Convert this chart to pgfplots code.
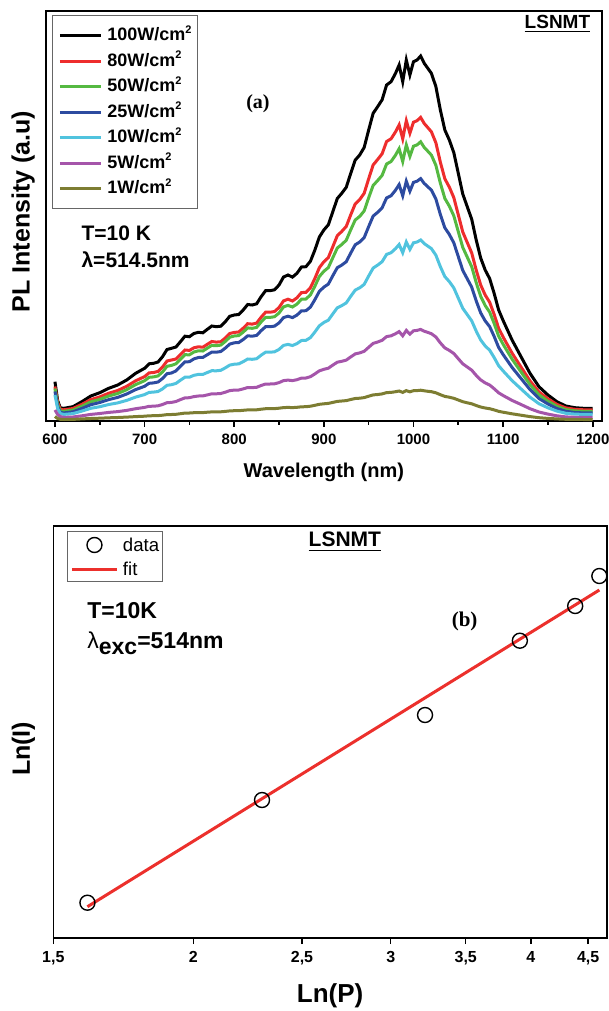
\documentclass[border=0pt]{standalone}
\usepackage{fontspec}
\setmainfont{Liberation Sans}
\newfontfamily\timesf{Liberation Serif}
\usepackage{pgfplots}
\usepackage{pgfplotstable}
\pgfplotsset{compat=1.18}

\definecolor{cBlack}{RGB}{0,0,0}
\definecolor{cRed}{RGB}{238,45,45}
\definecolor{cGreen}{RGB}{85,185,65}
\definecolor{cBlue}{RGB}{45,75,160}
\definecolor{cCyan}{RGB}{80,195,222}
\definecolor{cMag}{RGB}{165,85,170}
\definecolor{cOlive}{RGB}{125,125,50}
\definecolor{cFit}{RGB}{236,48,44}

\newcommand{\sq}{\raisebox{3.6pt}{\fontsize{5.5}{5.5}\selectfont 2}}

% PL spectra, arbitrary units
\pgfplotstableread{
wl   p100  p80   p50   p25   p10   p5    p1
600  38.8  34.0  32.0  29.0  25.5  10.5  4.0
603  20.0  18.0  16.0  14.0  12.0  6.0   2.0
606  12.5  11.0  9.5   8.0   7.0   4.0   1.2
610  12.2  10.7  9.2   7.6   6.1   3.1   1.0
620  13.8  12.0  10.4  8.7   6.9   3.5   1.1
630  18.8  16.1  14.2  12.0  9.4   4.7   1.6
640  24.5  20.9  18.6  15.8  12.2  6.1   2.0
650  27.8  23.6  21.1  18.0  13.8  7.0   2.3
660  32.2  27.3  24.5  20.9  16.0  8.1   2.7
670  35.5  30.0  27.0  23.1  17.6  8.9   3.0
680  40.5  34.2  30.8  26.5  20.1  10.1  3.4
690  47.2  39.7  35.9  30.9  23.4  11.8  3.9
700  52.2  43.9  39.8  34.2  25.9  13.1  4.3
705  56.7  47.6  43.2  37.2  28.1  14.2  4.7
710  57.2  48.0  43.6  37.6  28.4  14.3  4.8
715  58.5  49.1  44.6  38.5  29.0  14.7  4.9
720  63.8  53.5  48.6  42.0  31.6  16.0  5.3
725  71.0  59.5  54.2  46.8  35.2  17.8  5.9
730  72.2  60.5  55.1  47.5  35.8  18.1  6.0
735  73.5  61.5  56.7  49.6  37.1  19.0  6.2
740  78.8  65.9  61.3  54.3  40.3  20.9  6.8
745  84.3  70.5  65.8  58.6  43.3  22.6  7.4
750  83.8  70.1  65.7  58.8  43.3  22.8  7.5
755  87.0  72.7  68.5  61.6  45.2  23.9  7.8
760  88.2  73.7  69.7  63.0  46.1  24.5  7.9
765  87.7  73.3  69.5  63.1  46.1  24.6  7.9
770  91.2  76.2  72.4  65.8  48.0  25.6  8.3
775  94.5  79.0  75.1  68.4  49.8  26.7  8.6
780  93.8  78.4  74.8  68.3  49.7  26.7  8.6
785  94.3  78.8  75.4  69.0  50.2  27.0  8.7
790  98.8  82.5  79.0  72.4  52.6  28.3  9.1
795  104.2 87.0  83.3  76.4  55.4  29.9  9.6
800  105.5 88.1  84.5  77.7  56.3  30.4  9.8
805  106.0 88.5  84.9  78.0  56.6  30.5  9.8
810  110.5 92.3  88.4  81.0  58.8  31.6  10.2
815  116.0 96.8  92.6  84.7  61.5  33.0  10.6
820  115.5 96.4  92.2  84.3  61.2  32.9  10.6
825  116.7 97.4  93.1  85.1  61.8  33.2  10.7
830  123.8 103.3 98.5  89.8  65.3  35.0  11.3
835  129.8 108.3 103.1 93.8  68.3  36.5  11.8
840  129.8 108.3 103.1 93.8  68.3  36.5  11.8
845  130.7 109.0 103.8 94.4  68.7  36.7  11.9
850  135.5 113.0 107.5 97.6  71.1  37.9  12.3
855  143.5 119.6 113.6 102.9 75.1  39.9  12.9
860  145.5 121.3 115.1 104.3 76.1  40.4  13.1
865  143.4 119.5 113.5 102.9 75.0  39.9  12.9
870  147.2 122.7 116.4 105.4 76.9  40.8  13.2
875  153.5 127.9 121.3 109.6 80.0  42.4  13.7
880  153.8 128.2 121.5 109.8 80.2  42.5  13.8
885  159.2 132.7 125.6 113.4 82.9  43.8  14.3
890  170.5 142.1 134.3 120.9 88.5  46.6  15.2
895  183.5 152.9 144.0 129.1 94.7  49.7  16.2
900  190.5 158.7 149.2 133.4 98.0  51.2  16.7
905  195.7 162.9 152.9 136.4 100.3 52.3  17.1
910  208.8 173.8 162.8 144.8 106.6 55.4  18.1
915  222.0 184.8 172.5 152.8 112.7 58.3  19.1
920  227.2 189.1 176.0 155.4 114.9 59.2  19.5
925  233.2 194.1 180.3 158.8 117.6 60.4  19.9
930  247.2 205.7 190.7 167.5 124.2 63.6  21.0
935  260.4 216.6 200.5 175.7 130.4 66.6  22.0
940  265.5 220.9 204.1 178.5 132.7 67.6  22.3
945  273.0 227.2 209.6 182.9 136.1 69.2  22.9
950  290.5 241.7 222.7 193.9 144.5 73.2  24.3
955  307.2 255.5 235.1 204.4 152.4 77.1  25.6
960  313.8 261.0 239.9 208.2 155.4 78.5  26.0
965  320.7 266.7 245.1 212.7 158.8 80.2  26.6
970  335.5 279.0 256.5 222.6 166.1 83.9  27.9
975  338.8 281.7 259.0 224.8 167.8 84.7  28.1
980  347.2 288.7 265.4 230.4 171.9 86.8  28.8
984  355.5 295.6 271.8 235.9 176.0 88.9  29.5
988  338.8 281.7 259.0 224.8 167.8 84.7  28.1
992  360.5 299.8 275.6 239.3 178.5 90.1  29.9
996  345.5 287.3 264.1 229.3 171.1 86.4  28.7
1000 358.8 298.3 274.3 238.1 177.7 89.7  29.8
1004 360.5 299.8 275.6 239.3 178.5 90.1  29.9
1008 364.5 303.1 278.7 241.9 180.5 91.1  30.3
1012 357.2 297.0 273.1 237.1 176.9 89.3  29.7
1016 352.2 292.9 269.3 233.7 174.4 88.1  29.2
1020 347.2 288.7 265.4 230.4 171.9 86.8  28.8
1025 333.9 277.7 255.2 221.5 165.3 83.5  27.7
1030 310.5 258.3 237.4 206.0 153.8 77.6  25.8
1035 290.5 241.7 222.1 192.7 143.9 72.6  24.1
1040 280.5 233.4 214.4 186.1 138.9 70.1  23.3
1045 267.9 222.9 204.7 177.7 132.6 67.0  22.2
1050 247.2 205.7 188.9 163.9 122.4 61.8  20.5
1055 226.5 188.5 173.1 150.1 112.2 56.7  18.8
1060 213.8 178.0 163.4 141.7 105.9 53.5  17.7
1065 201.2 167.5 153.7 133.3 99.6  50.3  16.7
1070 180.5 150.4 137.9 119.6 89.4  45.1  15.0
1075 162.5 135.5 124.2 107.6 80.5  40.6  13.5
1080 150.5 125.5 115.0 99.6  74.6  37.6  12.5
1085 141.9 118.3 108.4 93.9  70.3  35.5  11.8
1090 127.2 106.1 97.1  84.1  63.0  31.8  10.6
1095 110.6 92.3  84.4  73.1  54.8  27.7  9.2
1100 100.0 83.5  76.3  66.0  49.6  25.0  8.3
1110 80.5  67.4  61.4  53.1  39.9  20.1  6.7
1120 63.8  53.5  48.6  42.0  31.6  16.0  5.3
1130 47.2  39.7  35.9  30.9  23.4  11.8  3.9
1140 33.8  28.6  25.7  22.0  16.8  8.5   2.8
1150 25.5  21.7  19.3  16.5  12.7  6.4   2.1
1160 18.8  16.1  14.2  12.0  9.4   4.7   1.6
1170 14.5  12.6  10.9  9.2   7.2   3.6   1.2
1180 12.8  11.2  9.6   8.0   6.4   3.2   1.1
1190 12.2  10.7  9.2   7.6   6.1   3.1   1.0
1200 12.2  10.7  9.2   7.6   6.1   3.1   1.0
}\spectra

% Ln(I) vs Ln(P)
\pgfplotstableread{
lnp   lni
1.609 8.353
2.303 9.380
3.219 10.230
3.912 10.973
4.382 11.320
4.605 11.620
}\points

\pgfplotstableread{
lnp   lni
1.609 8.313
4.605 11.480
}\fitline

\begin{document}
\begin{tikzpicture}
\path[use as bounding box] (0,0) rectangle (304.5pt,-505.5pt);

% (a) spectra
\begin{axis}[
    at={(23pt,-210.25pt)}, anchor=south west,
    width=277.85pt, height=204.9pt, scale only axis,
    clip=false,
    xmin=590, xmax=1210, ymin=0, ymax=409.8,
    xtick={600,700,...,1200}, minor x tick num=1,
    ytick=\empty, xtick pos=left, tick align=outside,
    major tick length=3pt, minor tick length=2pt,
    axis line style={line width=1pt},
    every tick/.style={black, line width=0.8pt},
    /pgf/number format/assume math mode=true,
    /pgf/number format/1000 sep={},
    xticklabel style={font=\bfseries\fontsize{7.5}{8}\selectfont},
    xlabel={Wavelength (nm)},
    xlabel style={font=\bfseries\fontsize{10}{12}\selectfont, at={(axis description cs:0.5,-0.127)}, anchor=center},
    ylabel={PL Intensity (a.u)},
    ylabel style={font=\bfseries\fontsize{12.5}{14}\selectfont, at={(axis description cs:-0.041,0.51)}, anchor=center},
    legend style={at={(0.0103,0.9895)}, anchor=north west, draw=black!60, line width=0.6pt,
        font=\bfseries\fontsize{9}{10}\selectfont, inner xsep=3pt, inner ysep=5.5pt,
        nodes={inner sep=0pt, text height=7pt, text depth=2pt}, row sep=3.75pt,
        /tikz/every odd column/.append style={column sep=2.5pt}},
    legend cell align=left,
    legend image code/.code={\draw[#1] (0pt,0pt) -- (20.5pt,0pt);},
]
\addplot[cBlack, line width=1.5pt] table[x=wl, y=p100] {\spectra};
\addlegendentry{100W/cm\sq}
\addplot[cRed, line width=1.5pt] table[x=wl, y=p80] {\spectra};
\addlegendentry{80W/cm\sq}
\addplot[cGreen, line width=1.5pt] table[x=wl, y=p50] {\spectra};
\addlegendentry{50W/cm\sq}
\addplot[cBlue, line width=1.5pt] table[x=wl, y=p25] {\spectra};
\addlegendentry{25W/cm\sq}
\addplot[cCyan, line width=1.5pt] table[x=wl, y=p10] {\spectra};
\addlegendentry{10W/cm\sq}
\addplot[cMag, line width=1.5pt] table[x=wl, y=p5] {\spectra};
\addlegendentry{5W/cm\sq}
\addplot[cOlive, line width=1.5pt] table[x=wl, y=p1] {\spectra};
\addlegendentry{1W/cm\sq}

\node[anchor=west, font=\bfseries\fontsize{10.5}{12}\selectfont] at (axis description cs:0.0513,0.4575) {T=10 K};
\node[anchor=west, font=\bfseries\fontsize{10.5}{12}\selectfont] at (axis description cs:0.0513,0.3917) {λ=514.5nm};
\node[font=\timesf\bfseries\fontsize{10}{11}\selectfont] at (axis description cs:0.3815,0.774) {(a)};
\node[font=\bfseries\fontsize{9.5}{10}\selectfont] at (axis description cs:0.9204,0.9676) {\underline{LSNMT}};
\end{axis}

% (b) power dependence
\begin{axis}[
    at={(26.65pt,-469pt)}, anchor=south west,
    width=276.85pt, height=206pt, scale only axis,
    clip=false,
    xmode=log, xmin=1.5, xmax=4.678, ymin=8, ymax=12.12,
    xtick={1.5,2,2.5,3,3.5,4,4.5},
    xticklabels={{1,5},{2},{2,5},{3},{3,5},{4},{4,5}},
    xminorticks=false,
    ytick=\empty, xtick pos=left, tick align=outside,
    major tick length=3pt,
    axis line style={line width=0.75pt},
    every tick/.style={black, line width=0.75pt},
    xticklabel style={font=\bfseries\fontsize{8}{9}\selectfont},
    xlabel={Ln(P)},
    xlabel style={font=\bfseries\fontsize{13}{15}\selectfont, at={(axis description cs:0.5,-0.1408)}, anchor=center},
    ylabel={Ln(I)},
    ylabel style={font=\bfseries\fontsize{12.5}{14}\selectfont, at={(axis description cs:-0.0542,0.459)}, anchor=center},
    legend style={at={(0.0247,0.9879)}, anchor=north west, draw=black!60, line width=0.5pt,
        font=\fontsize{9.3}{10}\selectfont, inner xsep=1.5pt, inner ysep=3pt,
        nodes={inner sep=0pt, text height=6.7pt, text depth=0pt}, row sep=5pt,
        /tikz/every odd column/.append style={column sep=2.25pt}},
    legend cell align=left,
    legend image code/.code={\draw[mark repeat=2, mark phase=2, #1] plot coordinates {(0pt,0pt) (11.25pt,0pt) (22.5pt,0pt)};},
]
\addplot[only marks, mark=o, mark size=3.75pt, black, line width=0.7pt] table[x=lnp, y=lni] {\points};
\addlegendentry{data}
\addplot[cFit, line width=1.5pt] table[x=lnp, y=lni] {\fitline};
\addlegendentry{fit}

\node[font=\bfseries\fontsize{10.5}{12}\selectfont] at (axis description cs:0.5265,0.9619) {\underline{LSNMT}};
\node[anchor=west, font=\bfseries\fontsize{11.5}{13}\selectfont] at (axis description cs:0.0488,0.7944) {T=10K};
\node[anchor=west, font=\bfseries\fontsize{11.5}{13}\selectfont] at (axis description cs:0.0488,0.716) {{\mdseries λ}\raisebox{-3pt}{exc}=514nm};
\node[font=\timesf\bfseries\fontsize{10.5}{12}\selectfont] at (axis description cs:0.7428,0.7677) {(b)};
\end{axis}
\end{tikzpicture}
\end{document}
